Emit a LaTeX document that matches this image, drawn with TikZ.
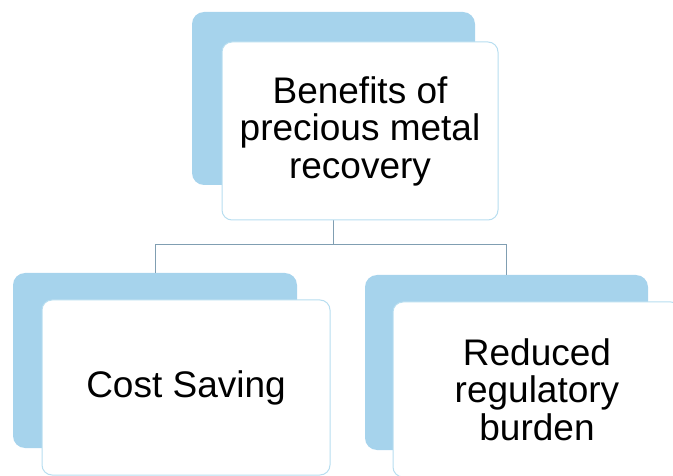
\documentclass[tikz,border=0pt]{standalone}
\usepackage{fontspec}
\setmainfont{Liberation Sans}
\usepackage{tikz}
\definecolor{backblue}{RGB}{166,211,236}
\definecolor{edgeblue}{RGB}{184,222,240}
\definecolor{linkblue}{RGB}{128,158,178}
\tikzset{
    back/.style={fill=backblue, rounded corners=12pt, inner sep=0pt},
    card/.style={fill=white, draw=edgeblue, line width=1pt, rounded corners=10pt,
                 inner sep=0pt, align=center, font=\fontsize{37}{37.5}\selectfont},
    link/.style={draw=linkblue, line width=1pt}
}

\begin{document}
\begin{tikzpicture}[x=1pt,y=-1pt]
    \useasboundingbox (0,0) rectangle (673,476);

    % shadows behind the cards
    \node[back, minimum width=283pt, minimum height=173pt] (topback) at (333.5,98.5) {};
    \node[back, minimum width=284pt, minimum height=175pt] (leftback) at (155,360.5) {};
    \node[back, minimum width=283pt, minimum height=175pt] (rightback) at (506.5,362.5) {};

    % connectors
    \draw[link] (topback.south) -- (topback.south |- 0,245) -| (leftback.north);
    \draw[link] (topback.south |- 0,245) -| (rightback.north);

    % cards
    \node[card, minimum width=276pt, minimum height=178pt] (top) at (360,131)
        {Benefits of\\precious metal\\recovery};
    \node[card, minimum width=288pt, minimum height=175pt] (cost) at (186,387.5)
        {Cost Saving};
    \node[card, minimum width=288pt, minimum height=175pt] (burden) at (537,389.5)
        {Reduced\\regulatory\\burden};
\end{tikzpicture}
\end{document}
